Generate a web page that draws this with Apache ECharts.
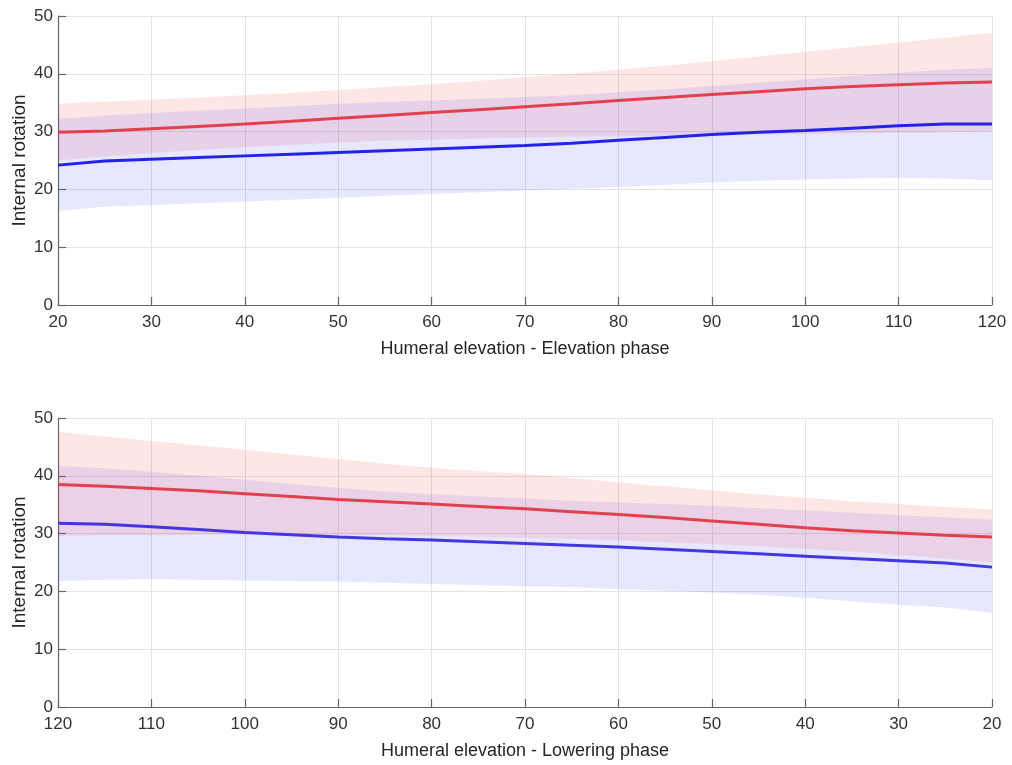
<!DOCTYPE html>
<html>
<head>
<meta charset="utf-8">
<script src="https://cdn.jsdelivr.net/npm/echarts@6/dist/echarts.min.js"></script>
<style>
  html, body { margin: 0; padding: 0; background: #fff; }
  #chart { width: 1012px; height: 765px; }
</style>
</head>
<body>
<div id="chart"></div>
<script>
// humeral elevation angles (deg)
var angles = [20, 25, 30, 35, 40, 45, 50, 55, 60, 65, 70, 75, 80, 85, 90, 95, 100, 105, 110, 115, 120];

// elevation phase (top)
var upRedMean  = [29.9, 30.1, 30.5, 30.9, 31.3, 31.8, 32.3, 32.8, 33.3, 33.8, 34.3, 34.8, 35.4, 35.9, 36.4, 36.9, 37.4, 37.8, 38.1, 38.4, 38.6];
var upRedHigh  = [34.8, 35.2, 35.5, 35.9, 36.3, 36.7, 37.2, 37.7, 38.2, 38.8, 39.4, 40.0, 40.7, 41.4, 42.2, 43.0, 43.8, 44.6, 45.4, 46.3, 47.1];
var upRedLow   = [25.0, 25.7, 26.3, 26.8, 27.3, 27.7, 28.1, 28.4, 28.6, 28.8, 29.0, 29.1, 29.2, 29.3, 29.4, 29.5, 29.6, 29.7, 29.8, 29.9, 30.0];
var upBlueMean = [24.2, 24.9, 25.2, 25.5, 25.8, 26.1, 26.4, 26.7, 27.0, 27.3, 27.6, 28.0, 28.5, 29.0, 29.5, 29.9, 30.2, 30.6, 31.0, 31.3, 31.3];
var upBlueHigh = [32.2, 32.8, 33.2, 33.6, 34.0, 34.4, 34.8, 35.1, 35.4, 35.7, 36.0, 36.3, 36.8, 37.3, 37.9, 38.5, 39.0, 39.6, 40.2, 40.7, 41.0];
var upBlueLow  = [16.3, 17.0, 17.3, 17.6, 17.9, 18.2, 18.5, 18.9, 19.2, 19.5, 19.8, 20.1, 20.4, 20.8, 21.2, 21.5, 21.7, 21.9, 22.0, 21.9, 21.6];

// lowering phase (bottom), same angle order 20..120
var dnRedMean  = [29.4, 29.7, 30.1, 30.5, 31.0, 31.6, 32.2, 32.8, 33.3, 33.8, 34.3, 34.7, 35.1, 35.5, 35.9, 36.4, 36.9, 37.4, 37.8, 38.2, 38.5];
var dnRedHigh  = [34.2, 34.6, 35.1, 35.6, 36.2, 36.8, 37.5, 38.2, 38.9, 39.6, 40.3, 40.8, 41.4, 42.1, 42.9, 43.7, 44.5, 45.3, 46.0, 46.8, 47.6];
var dnRedLow   = [25.0, 25.7, 26.3, 26.9, 27.4, 27.8, 28.2, 28.5, 28.8, 29.1, 29.3, 29.5, 29.6, 29.7, 29.8, 29.8, 29.8, 29.8, 29.7, 29.7, 29.6];
var dnBlueMean = [24.2, 24.9, 25.3, 25.7, 26.1, 26.5, 26.9, 27.3, 27.7, 28.0, 28.3, 28.6, 28.9, 29.1, 29.4, 29.8, 30.2, 30.7, 31.2, 31.6, 31.8];
var dnBlueHigh = [32.4, 32.8, 33.2, 33.6, 34.0, 34.4, 34.8, 35.1, 35.4, 35.7, 36.1, 36.4, 36.8, 37.3, 37.9, 38.6, 39.3, 40.0, 40.7, 41.3, 41.7];
var dnBlueLow  = [16.3, 17.2, 17.7, 18.3, 18.9, 19.4, 19.8, 20.1, 20.4, 20.7, 20.9, 21.1, 21.3, 21.5, 21.7, 21.8, 21.9, 22.0, 22.1, 22.0, 21.8];

var yTicks = { min: 0, max: 50, interval: 10 };
var xTicks = { min: 20, max: 120, interval: 10 };

var RED = '#e0414f';
var BLUE = '#2323e6';
var FONT = 'Liberation Sans';

function pairs(ys) {
  return angles.map(function (a, i) { return [a, ys[i]]; });
}

// shaded band between lo and hi, drawn as one polygon through the axis scales
function band(idx, hi, lo, color) {
  var data = angles.map(function (a, i) { return [a, lo[i], hi[i]]; });
  return {
    type: 'custom', xAxisIndex: idx, yAxisIndex: idx, silent: true, clip: true,
    encode: { x: 0, y: [1, 2] },
    data: data,
    renderItem: function (params, api) {
      if (params.dataIndex !== 0) return;
      var top = data.map(function (d) { return api.coord([d[0], d[2]]); });
      var bot = data.map(function (d) { return api.coord([d[0], d[1]]); }).reverse();
      return {
        type: 'polygon',
        shape: { points: top.concat(bot) },
        style: { fill: color }
      };
    }
  };
}
function meanLine(idx, ys, color) {
  return {
    type: 'line', xAxisIndex: idx, yAxisIndex: idx, data: pairs(ys),
    symbol: 'none', lineStyle: { color: color, width: 3 }, z: 5
  };
}

function xAxis(idx, name, inverse) {
  return {
    type: 'value', gridIndex: idx, min: xTicks.min, max: xTicks.max, interval: xTicks.interval,
    inverse: inverse,
    name: name, nameLocation: 'middle', nameGap: 35,
    nameTextStyle: { fontFamily: FONT, fontSize: 18, color: '#262626' },
    axisLine: { lineStyle: { color: '#666', width: 1.2 } },
    axisTick: { inside: true, length: 8, lineStyle: { color: '#666', width: 1.2 } },
    axisLabel: { fontFamily: FONT, fontSize: 17, color: '#333', margin: 9 },
    splitLine: { show: true, lineStyle: { color: '#e3e3e3', width: 1 } }
  };
}
function yAxis(idx) {
  return {
    type: 'value', gridIndex: idx, min: yTicks.min, max: yTicks.max, interval: yTicks.interval,
    name: 'Internal rotation', nameLocation: 'middle', nameGap: 29, nameMoveOverlap: false,
    nameTextStyle: { fontFamily: FONT, fontSize: 19, color: '#262626' },
    axisLine: { show: true, lineStyle: { color: '#666', width: 1.2 } },
    axisTick: { show: true, inside: true, length: 8, lineStyle: { color: '#666', width: 1.2 } },
    axisLabel: { fontFamily: FONT, fontSize: 17, color: '#333', margin: 5 },
    splitLine: { show: true, lineStyle: { color: '#e3e3e3', width: 1 } }
  };
}

var chart = echarts.init(document.getElementById('chart'));
chart.setOption({
  animation: false,
  backgroundColor: '#fff',
  grid: [
    { left: 58, right: 20, top: 16, height: 289, outerBoundsMode: 'none' },
    { left: 58, right: 20, top: 418, height: 289, outerBoundsMode: 'none' }
  ],
  xAxis: [
    xAxis(0, 'Humeral elevation - Elevation phase', false),
    xAxis(1, 'Humeral elevation - Lowering phase', true)
  ],
  yAxis: [yAxis(0), yAxis(1)],
  series: [
    band(0, upRedHigh, upRedLow, 'rgba(255,60,60,0.13)'),
    band(0, upBlueHigh, upBlueLow, 'rgba(60,60,255,0.12)'),
    meanLine(0, upBlueMean, BLUE),
    meanLine(0, upRedMean, RED),
    band(1, dnBlueHigh, dnBlueLow, 'rgba(60,60,255,0.12)'),
    meanLine(1, dnBlueMean, '#4436e0'),
    band(1, dnRedHigh, dnRedLow, 'rgba(255,60,60,0.13)'),
    meanLine(1, dnRedMean, RED)
  ]
});
</script>
</body>
</html>
